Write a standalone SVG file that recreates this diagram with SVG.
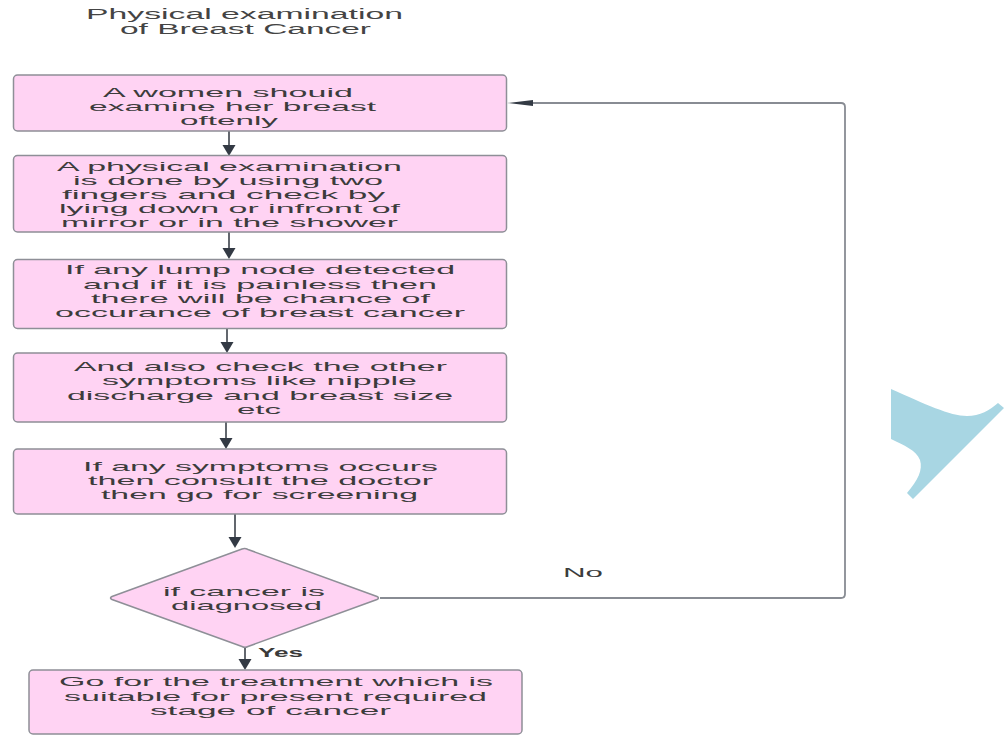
<svg xmlns="http://www.w3.org/2000/svg" width="1005" height="736" viewBox="0 0 1005 736">
<defs>
<style>
.box{fill:#ffd3f3;stroke:#8e8f97;stroke-width:1.5}
.t{font-family:"Liberation Sans",Arial,sans-serif;font-size:13px;fill:#3c3c3c}
.title{font-family:"Liberation Sans",Arial,sans-serif;font-size:14px;fill:#444}
.lbl{font-family:"Liberation Sans",Arial,sans-serif;font-size:13.5px;fill:#3c3c3c}
.yes{font-family:"Liberation Sans",Arial,sans-serif;font-size:12px;font-weight:bold;fill:#3a3a3a}
.ln{stroke:#3b414a;stroke-width:1.6;fill:none}
.ln2{stroke:#888c93;stroke-width:1.8;fill:none}
.ah{fill:#333a44}
</style>
</defs>
<rect width="1005" height="736" fill="#fff"/>
<g id="title">
<text class="title" x="86" y="19" textLength="317" lengthAdjust="spacingAndGlyphs">Physical examination</text>
<text class="title" x="120" y="34" textLength="251" lengthAdjust="spacingAndGlyphs">of Breast Cancer</text>
</g>
<g id="connectors">
<line class="ln" x1="229" y1="131" x2="229" y2="146"/>
<polygon class="ah" points="222.5,145 235.5,145 229,156"/>
<line class="ln" x1="229" y1="232" x2="229" y2="249"/>
<polygon class="ah" points="222.5,248 235.5,248 229,259"/>
<line class="ln" x1="227" y1="325" x2="227" y2="343"/>
<polygon class="ah" points="220.5,342 233.5,342 227,353"/>
<line class="ln" x1="226" y1="422" x2="226" y2="439"/>
<polygon class="ah" points="219.5,438 232.5,438 226,449"/>
<line class="ln" x1="235" y1="514" x2="235" y2="538"/>
<polygon class="ah" points="228.5,537 241.5,537 235,548"/>
<line class="ln" x1="245" y1="648" x2="245" y2="660"/>
<polygon class="ah" points="238.5,659 251.5,659 245,670"/>
<path class="ln2" d="M380,598 H841 Q845,598 845,594 V107 Q845,103 841,103 H520"/>
<polygon class="ah" points="507,103 533,100 533,106"/>
<text class="yes" x="258" y="657" textLength="45" lengthAdjust="spacingAndGlyphs">Yes</text>
<text class="lbl" x="563" y="577" textLength="40" lengthAdjust="spacingAndGlyphs">No</text>
</g>
<g id="n1">
<rect class="box" x="13.5" y="75" width="493" height="56" rx="4"/>
<text class="t" x="103" y="97" textLength="250" lengthAdjust="spacingAndGlyphs">A women shouid</text>
<text class="t" x="89" y="111" textLength="287" lengthAdjust="spacingAndGlyphs">examine her breast</text>
<text class="t" x="180" y="125" textLength="98" lengthAdjust="spacingAndGlyphs">oftenly</text>
</g>
<g id="n2">
<rect class="box" x="13.5" y="155.5" width="493" height="76.5" rx="4"/>
<text class="t" x="57" y="171" textLength="345" lengthAdjust="spacingAndGlyphs">A physical examination</text>
<text class="t" x="73" y="185" textLength="310" lengthAdjust="spacingAndGlyphs">is done by using two</text>
<text class="t" x="62" y="199" textLength="323" lengthAdjust="spacingAndGlyphs">fingers and check by</text>
<text class="t" x="59" y="213" textLength="341" lengthAdjust="spacingAndGlyphs">lying down or infront of</text>
<text class="t" x="61" y="227" textLength="337" lengthAdjust="spacingAndGlyphs">mirror or in the shower</text>
</g>
<g id="n3">
<rect class="box" x="13.5" y="259.5" width="493" height="69" rx="4"/>
<text class="t" x="65" y="274" textLength="390" lengthAdjust="spacingAndGlyphs">If any lump node detected</text>
<text class="t" x="83" y="289" textLength="354" lengthAdjust="spacingAndGlyphs">and if it is painless then</text>
<text class="t" x="91" y="303" textLength="339" lengthAdjust="spacingAndGlyphs">there will be chance of</text>
<text class="t" x="55" y="317" textLength="410" lengthAdjust="spacingAndGlyphs">occurance of breast cancer</text>
</g>
<g id="n4">
<rect class="box" x="13.5" y="353" width="493" height="69" rx="4"/>
<text class="t" x="74" y="371" textLength="373" lengthAdjust="spacingAndGlyphs">And also check the other</text>
<text class="t" x="102" y="385" textLength="315" lengthAdjust="spacingAndGlyphs">symptoms like nipple</text>
<text class="t" x="67" y="400" textLength="386" lengthAdjust="spacingAndGlyphs">discharge and breast size</text>
<text class="t" x="237" y="414" textLength="44" lengthAdjust="spacingAndGlyphs">etc</text>
</g>
<g id="n5">
<rect class="box" x="13.5" y="449" width="493" height="65" rx="4"/>
<text class="t" x="83" y="471" textLength="355" lengthAdjust="spacingAndGlyphs">If any symptoms occurs</text>
<text class="t" x="88" y="485" textLength="345" lengthAdjust="spacingAndGlyphs">then consult the doctor</text>
<text class="t" x="101" y="499" textLength="317" lengthAdjust="spacingAndGlyphs">then go for screening</text>
</g>
<g id="n6">
<path class="box" d="M242,549 Q245,548 248,549.5 L377,596.5 Q380,598 377,599.5 L248,646.5 Q245,648 242,646.5 L112,599.5 Q109,598 112,596.5 Z"/>
<text class="t" x="163" y="596" textLength="162" lengthAdjust="spacingAndGlyphs">if cancer is</text>
<text class="t" x="171" y="610" textLength="151" lengthAdjust="spacingAndGlyphs">diagnosed</text>
</g>
<g id="n7">
<rect class="box" x="29" y="670" width="493" height="64" rx="4"/>
<text class="t" x="59" y="686" textLength="434" lengthAdjust="spacingAndGlyphs">Go for the treatment which is</text>
<text class="t" x="64" y="701" textLength="423" lengthAdjust="spacingAndGlyphs">suitable for present required</text>
<text class="t" x="150" y="715" textLength="241" lengthAdjust="spacingAndGlyphs">stage of cancer</text>
</g>
<path d="M891,389 C925,404 950,416 967,416 C980,416 990,410 998,403 L1004,408 L913,499 L907,493 C918,480 923,470 920,460 C916,450 905,446 891,439 Z" fill="#a8d6e3"/>
</svg>
